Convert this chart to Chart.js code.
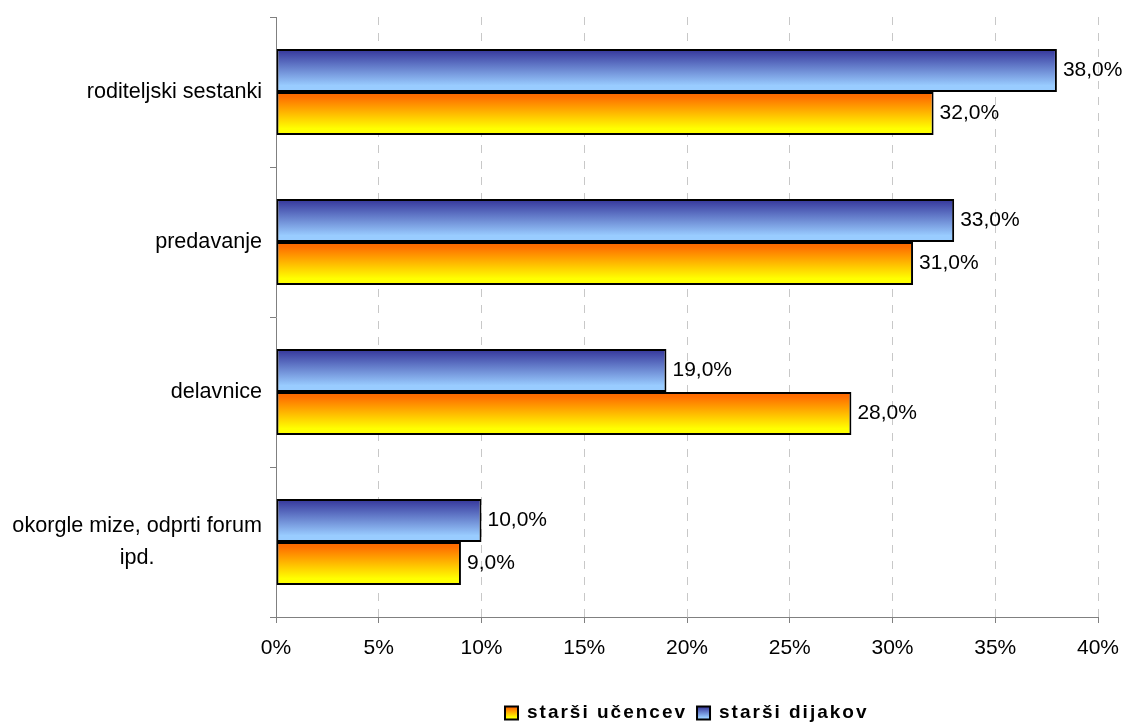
<!DOCTYPE html>
<html>
<head>
<meta charset="utf-8">
<script src="https://cdn.jsdelivr.net/npm/chart.js@4/dist/chart.umd.min.js"></script>
<style>
  html, body { margin: 0; padding: 0; background: #fff; }
</style>
</head>
<body>
<canvas id="myChart" width="1127" height="722"></canvas>
<script>
// categories (multi-line labels as arrays)
const categories = [
  ['roditeljski sestanki'],
  ['predavanje'],
  ['delavnice'],
  ['okorgle mize, odprti forum', 'ipd.']
];
const seriesNames = ['starši dijakov', 'starši učencev'];
const dijakov = [38, 33, 19, 10];
const ucencev = [32, 31, 28, 9];
const xTickStep = 5;
const xMax = 40;

const FONT = '"Liberation Sans", Arial, sans-serif';
const CAT_PCT = 0.573;

const blueStops = [[0, '#333399'], [0.85, '#99ccff'], [1, '#99ccff']];
const orangeStops = [[0, '#ff6600'], [0.12, '#ff7000'], [0.85, '#ffff00'], [1, '#ffff00']];

function makeGradient(ctx, top, h, stops) {
  const g = ctx.createLinearGradient(0, top, 0, top + h);
  stops.forEach(s => g.addColorStop(s[0], s[1]));
  return g;
}

// vertical gradient for each bar, worked out from the category scale
function barFill(stops) {
  return function (c) {
    const chart = c.chart;
    const y = chart.scales.y;
    if (!chart.chartArea || !y) return stops[stops.length - 1][1];
    const band = (y.bottom - y.top) / categories.length;
    const half = band * CAT_PCT / 2;
    const center = y.getPixelForValue(c.dataIndex);
    const top = c.datasetIndex === 0 ? center - half : center;
    return makeGradient(chart.ctx, top, half, stops);
  };
}

function fmt(v) {
  return v.toFixed(1).replace('.', ',') + '%';
}

// value labels at bar ends
const valueLabels = {
  id: 'valueLabels',
  afterDatasetsDraw(chart) {
    const ctx = chart.ctx;
    ctx.save();
    ctx.font = '21px ' + FONT;
    ctx.fillStyle = '#000';
    ctx.textAlign = 'left';
    ctx.textBaseline = 'middle';
    chart.data.datasets.forEach((ds, i) => {
      chart.getDatasetMeta(i).data.forEach((bar, j) => {
        ctx.fillText(fmt(ds.data[j]), bar.x + 6, bar.y);
      });
    });
    ctx.restore();
  }
};

// category labels: single lines right aligned, wrapped lines centred in their block
const catLabels = {
  id: 'catLabels',
  afterDraw(chart) {
    const ctx = chart.ctx;
    const y = chart.scales.y;
    const right = y.right - 14;
    const lh = 32;
    ctx.save();
    ctx.font = '21.6px ' + FONT;
    ctx.fillStyle = '#000';
    ctx.textBaseline = 'middle';
    ctx.textAlign = 'center';
    categories.forEach((lines, i) => {
      const cy = y.getPixelForValue(i);
      const w = Math.max(...lines.map(l => ctx.measureText(l).width));
      const cx = right - w / 2;
      lines.forEach((l, k) => {
        ctx.fillText(l, cx, cy + (k - (lines.length - 1) / 2) * lh);
      });
    });
    ctx.restore();
  }
};

// legend with gradient boxes, series in reverse order
const boxLegend = {
  id: 'boxLegend',
  afterDraw(chart) {
    const ctx = chart.ctx;
    ctx.save();
    ctx.font = 'bold 19px ' + FONT;
    ctx.letterSpacing = '2px';
    ctx.textBaseline = 'middle';
    ctx.textAlign = 'left';
    const items = [[seriesNames[1], orangeStops], [seriesNames[0], blueStops]];
    let x = 505;
    const cy = 713;
    const box = 13;
    items.forEach(([name, stops]) => {
      ctx.fillStyle = makeGradient(ctx, cy - box / 2, box, stops);
      ctx.fillRect(x, cy - box / 2, box, box);
      ctx.lineWidth = 2;
      ctx.strokeStyle = '#000';
      ctx.strokeRect(x, cy - box / 2, box, box);
      ctx.fillStyle = '#000';
      ctx.fillText(name, x + box + 9, cy);
      x += box + 9 + ctx.measureText(name).width + 10;
    });
    ctx.restore();
  }
};

new Chart(document.getElementById('myChart').getContext('2d'), {
  type: 'bar',
  data: {
    labels: categories.map(l => l.join(' ')),
    datasets: [
      {
        label: seriesNames[0],
        data: dijakov,
        backgroundColor: barFill(blueStops),
        borderColor: '#000',
        borderWidth: 2,
        borderSkipped: false
      },
      {
        label: seriesNames[1],
        data: ucencev,
        backgroundColor: barFill(orangeStops),
        borderColor: '#000',
        borderWidth: 2,
        borderSkipped: false
      }
    ]
  },
  options: {
    indexAxis: 'y',
    responsive: false,
    animation: false,
    devicePixelRatio: 1,
    categoryPercentage: CAT_PCT,
    barPercentage: 1,
    layout: { padding: { top: 17, right: 29, left: 0, bottom: 0 } },
    plugins: {
      legend: { display: false },
      tooltip: { enabled: false }
    },
    scales: {
      x: {
        min: 0,
        max: xMax,
        ticks: {
          stepSize: xTickStep,
          color: '#000',
          font: { family: FONT, size: 21 },
          padding: 13,
          callback: v => v + '%'
        },
        grid: {
          color: '#c8c8c8',
          tickColor: '#808080',
          tickLength: 6
        },
        border: { color: '#808080', dash: [8, 8] },
        afterFit(s) {
          s.height = 105;
          s.paddingLeft = 0;
          s.paddingRight = 0;
        }
      },
      y: {
        ticks: { display: false },
        grid: {
          offset: true,
          drawOnChartArea: false,
          color: '#808080',
          tickLength: 6
        },
        border: { color: '#808080' },
        afterFit(s) { s.width = 276; }
      }
    }
  },
  plugins: [valueLabels, catLabels, boxLegend]
});
</script>
</body>
</html>
